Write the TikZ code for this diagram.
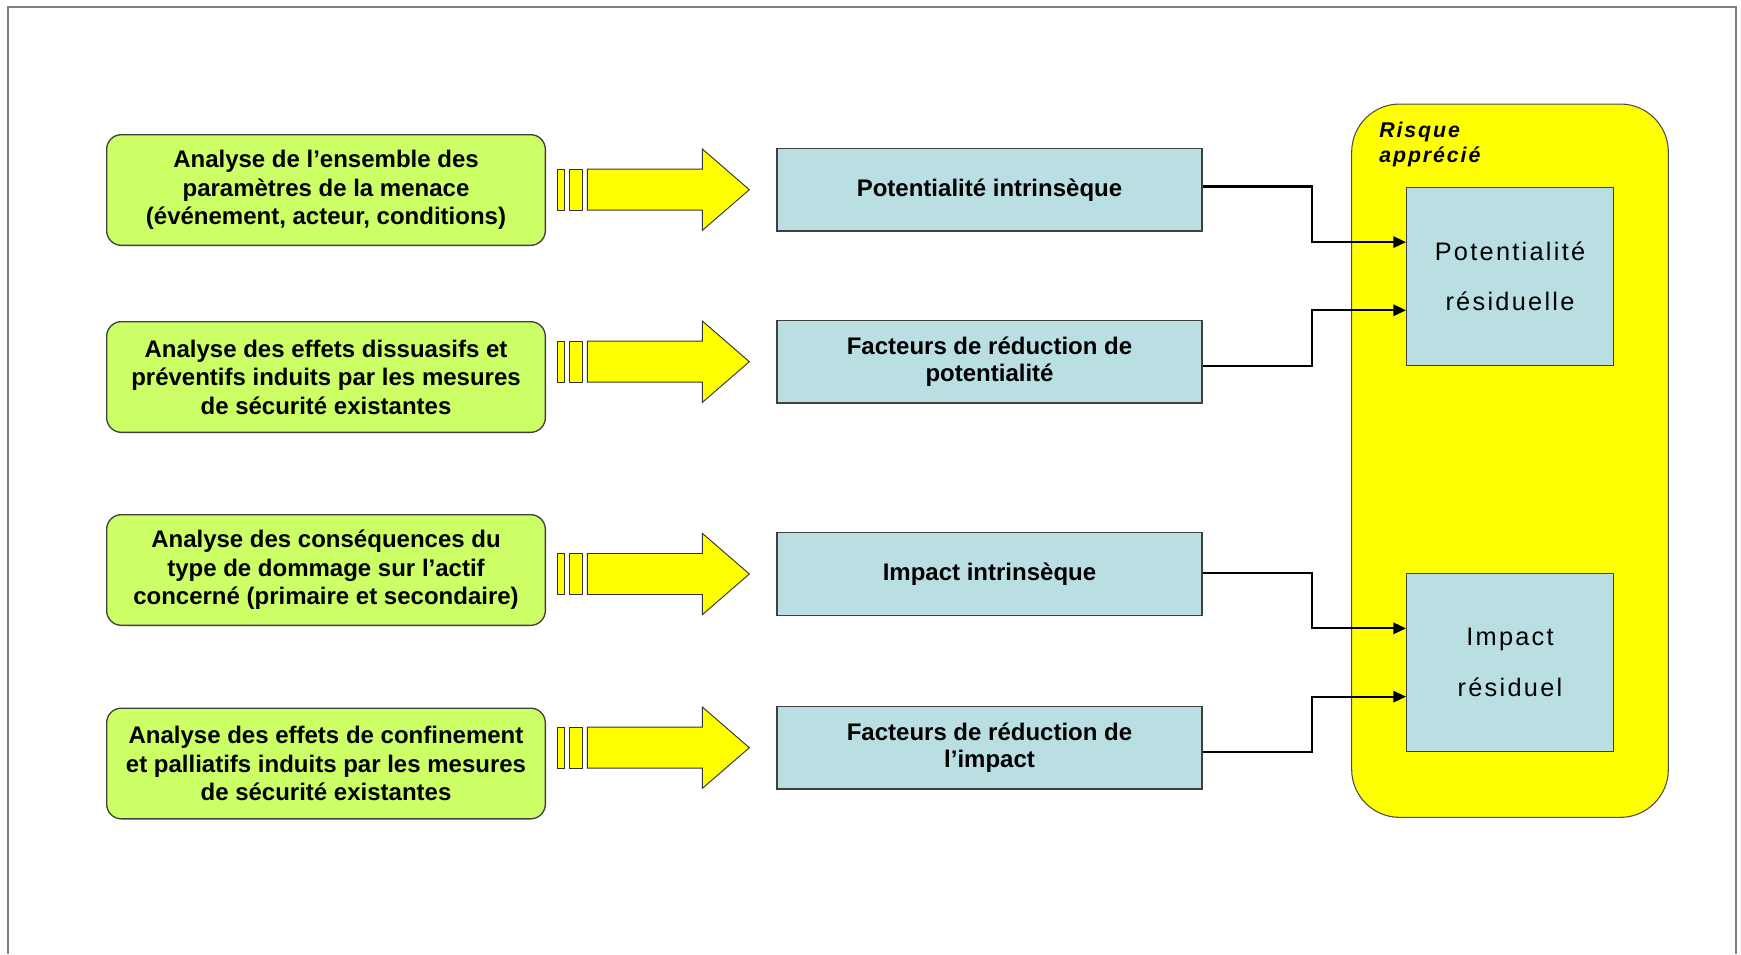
\documentclass[tikz,border=0pt]{standalone}
\usepackage{fontspec}
\setmainfont{Liberation Sans}
\newfontfamily\spacedfont[LetterSpace=9]{Liberation Sans}
\usetikzlibrary{calc}
\usetikzlibrary{arrows.meta}
\usepackage{xcolor}
\definecolor{analysegreen}{RGB}{204,255,102}
\definecolor{facteurblue}{RGB}{185,223,227}
\definecolor{risqueyellow}{RGB}{255,255,0}

\begin{document}
\begin{tikzpicture}[x=0.75pt, y=-0.75pt]
        % ================= 样式定义 =================
        \tikzset{
            % 绿色圆角分析框
            anode/.style={rectangle, rounded corners=11pt, draw=black!75, line width=1pt, fill=analysegreen, minimum width=329pt, minimum height=83pt, inner sep=0pt, align=center, font=\fontsize{18}{21.4}\selectfont\bfseries},
            % 蓝色因素框
            fnode/.style={rectangle, draw=black!75, line width=1pt, fill=facteurblue, minimum width=318.75pt, minimum height=62pt, inner sep=0pt, align=center, font=\fontsize{18}{20.5}\selectfont\bfseries},
            % 右侧残余框
            rnode/.style={rectangle, draw=black!75, line width=1pt, fill=facteurblue, minimum width=155pt, minimum height=133.5pt, inner sep=0pt, align=center, font=\fontsize{19}{38}\selectfont\spacedfont},
            % 黄色大容器
            risque_box/.style={rectangle, rounded corners=36pt, draw=black!70, line width=0.8pt, fill=risqueyellow, minimum width=237.5pt, minimum height=535pt, inner sep=0pt},
            % 连接线 (带箭头)
            link_edge/.style={line width=1.6pt, black, -{Triangle[length=9.5pt,width=8.5pt]}},
            % 外框
            frame_edge/.style={line width=1.5pt, black!50},
            % 黄色粗箭头
            arrow_part/.style={fill=risqueyellow, draw=black!80, line width=0.7pt},
            fat_arrow/.pic={
                \draw[arrow_part] (-219,-20.5) rectangle (-212,20.5);
                \draw[arrow_part] (-207,-20.5) rectangle (-194,20.5);
                \draw[arrow_part] (-189,-20.5) -- (-74,-20.5) -- (-74,-40.7) -- (-27,0) -- (-74,40.7) -- (-74,20.5) -- (-189,20.5) -- cycle;
            }
        }

        \useasboundingbox (0,0) rectangle (1741,954);

        % ================= 坐标定义 =================
        % 左列 (分析)
        \coordinate (a1_p) at (326, 190);
        \coordinate (a2_p) at (326, 377);
        \coordinate (a3_p) at (326, 570);
        \coordinate (a4_p) at (326, 763.5);
        % 中列 (因素)
        \coordinate (f1_p) at (989.5, 189.7);
        \coordinate (f2_p) at (989.5, 361.7);
        \coordinate (f3_p) at (989.5, 574);
        \coordinate (f4_p) at (989.5, 747.7);
        % 右列 (残余)
        \coordinate (r1_p) at (1510, 276.2);
        \coordinate (r2_p) at (1510, 662.5);
        \coordinate (elbow) at (1312, 0);

        % ================= 外框 =================
        \draw[frame_edge] (8,954) |- (1736,7) -- (1736,954);

        % ================= 放置节点 =================
        \node[anode] (a1) at (a1_p) {Analyse de l’ensemble des\\paramètres de la menace\\(événement, acteur, conditions)};
        \node[anode] (a2) at (a2_p) {Analyse des effets dissuasifs et\\préventifs induits par les mesures\\de sécurité existantes};
        \node[anode] (a3) at (a3_p) {Analyse des conséquences du\\type de dommage sur l’actif\\concerné (primaire et secondaire)};
        \node[anode] (a4) at (a4_p) {Analyse des effets de confinement\\et palliatifs induits par les mesures\\de sécurité existantes};

        \node[fnode] (f1) at (f1_p) {Potentialité intrinsèque};
        \node[fnode] (f2) at (f2_p) {Facteurs de réduction de\\potentialité};
        \node[fnode] (f3) at (f3_p) {Impact intrinsèque};
        \node[fnode] (f4) at (f4_p) {Facteurs de réduction de\\l’impact};

        % 黄色粗箭头
        \foreach \n in {f1, f2, f3, f4} \pic at (\n.west) {fat_arrow};

        % 黄色容器
        \node[risque_box] (risque) at (1510, 460.7) {};
        \node[anchor=north west, inner sep=0pt, align=left, font=\fontsize{16}{18.75}\selectfont\spacedfont\bfseries\itshape] (risque_lbl) at (1379, 121.5) {Risque\\apprécié};

        \node[rnode] (r1) at (r1_p) {Potentialité\\résiduelle};
        \node[rnode, minimum height=133.8pt] (r2) at (r2_p) {Impact\\résiduel};

        % ================= 绘制连边 =================
        \coordinate (r1_in1) at ($(r1.north west)!0.31!(r1.south west)$);
        \coordinate (r1_in2) at ($(r1.north west)!0.69!(r1.south west)$);
        \coordinate (r2_in1) at ($(r2.north west)!0.31!(r2.south west)$);
        \coordinate (r2_in2) at ($(r2.north west)!0.69!(r2.south west)$);

        \draw[link_edge] (f1.east |- r1.north) -| (elbow |- r1_in1) -- (r1_in1);
        \draw[link_edge] (f2.east |- r1.south) -| (elbow |- r1_in2) -- (r1_in2);
        \draw[link_edge] (f3.east |- r2.north) -| (elbow |- r2_in1) -- (r2_in1);
        \draw[link_edge] (f4.east |- r2.south) -| (elbow |- r2_in2) -- (r2_in2);

    \end{tikzpicture}
\end{document}
